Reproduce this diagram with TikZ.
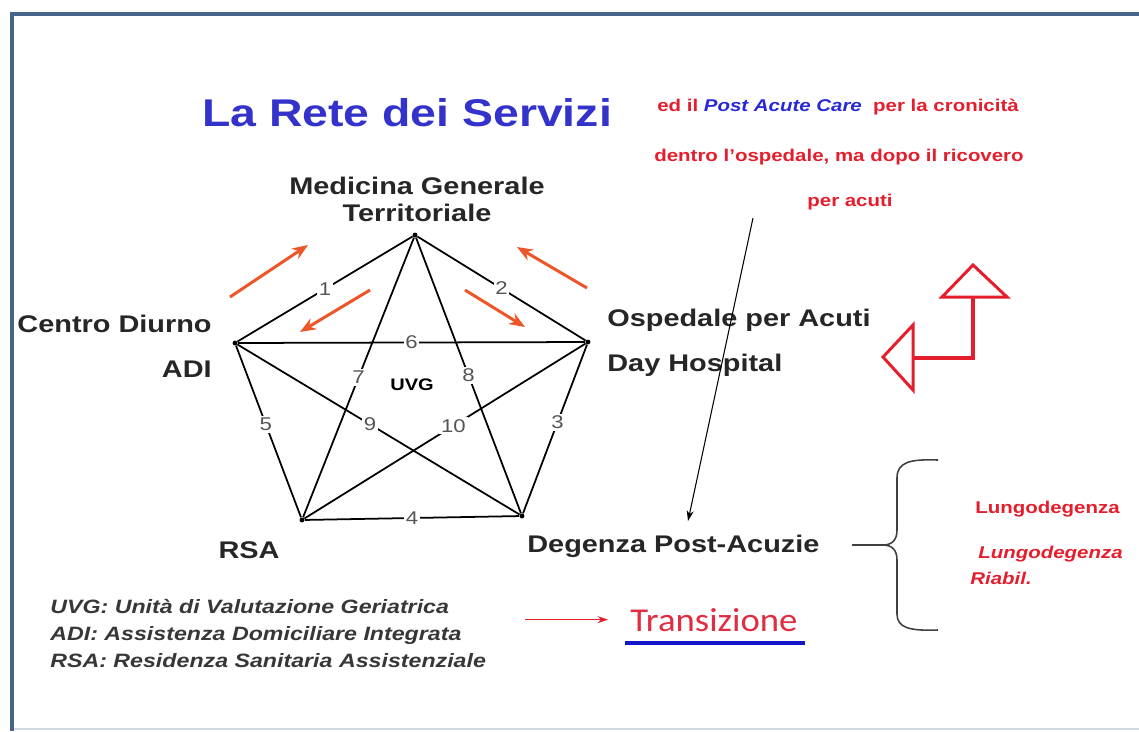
\documentclass[tikz,border=0pt]{standalone}
\usepackage{fontspec}
\setmainfont[FakeStretch=1.2]{Liberation Sans}
\newfontfamily\transfont[FakeStretch=1.1]{Carlito}
\usetikzlibrary{arrows.meta,positioning}
\definecolor{titlecolor}{RGB}{51,51,204}
\definecolor{notecolor}{RGB}{228,30,45}
\definecolor{pacolor}{RGB}{40,40,215}
\definecolor{flowcolor}{RGB}{236,86,40}
\definecolor{framecolor}{RGB}{70,100,140}
\definecolor{edgecolor}{RGB}{85,85,85}
\definecolor{legendcolor}{RGB}{55,55,55}
\definecolor{barcolor}{RGB}{20,20,200}
\definecolor{transcolor}{RGB}{225,45,65}

\begin{document}
\begin{tikzpicture}[x=0.02cm, y=-0.02cm,
                vertex/.style={circle, fill=black, inner sep=0pt, minimum size=2.8pt},
                place/.style={inner sep=0pt, text=black!85, font=\bfseries\fontsize{13.7}{15.4}\selectfont},
                edgenum/.style={fill=white, inner sep=1pt, text=edgecolor, font=\fontsize{10.5}{12}\selectfont},
                note/.style={inner sep=0pt, text=notecolor, font=\bfseries\fontsize{9.7}{11}\selectfont},
                legend/.style={inner sep=0pt, anchor=base west, text=legendcolor, font=\bfseries\itshape\fontsize{11}{13}\selectfont},
                link/.style={line width=1pt},
                flow/.style={-{Stealth[length=9pt, width=7pt]}, line width=1.7pt, flowcolor},
                thinarrow/.style={-{Stealth[length=6pt, width=4pt]}, line width=0.6pt},
                turn/.style={notecolor, line width=1.7pt, line join=miter},
                brace/.style={black!75, line width=0.9pt}]

                \useasboundingbox (0,0) rectangle (1139,731);

                % Frame
                \draw[framecolor, line width=2.3pt] (10,14) -- (1139,14);
                \draw[framecolor, line width=2.3pt] (12,14) -- (12,731);
                \draw[framecolor!25, line width=1.5pt] (14,729) -- (1139,729);

                % Title
                \node[inner sep=0pt, anchor=base, text=titlecolor, font=\bfseries\fontsize{22}{26}\selectfont] (title) at (407,126) {La Rete dei Servizi};

                % Pentagon
                \node[vertex] (mg) at (415,235) {};
                \node[vertex] (cd) at (235,343) {};
                \node[vertex] (op) at (588,342) {};
                \node[vertex] (rsa) at (302,520) {};
                \node[vertex] (dpa) at (522,516) {};
                \foreach \a/\b/\n/\p in {cd/mg/1/0.5, mg/op/2/0.5, op/dpa/3/0.46, rsa/dpa/4/0.5, cd/rsa/5/0.46,
                                         cd/op/6/0.5, mg/rsa/7/0.5, mg/dpa/8/0.5, cd/dpa/9/0.47, op/rsa/10/0.47}
                    \draw[link] (\a) -- node[edgenum, pos=\p] {\n} (\b);
                \node[inner sep=0pt, font=\bfseries\fontsize{9.5}{11}\selectfont] (uvg) at (412,385) {UVG};

                % Places
                \node[place, align=center] (mgtxt) at (417,199) {Medicina Generale\\Territoriale};
                \node[place, anchor=base east] (cdtxt) at (212,332) {Centro Diurno};
                \node[place, anchor=base east] (aditxt) at (212,377) {ADI};
                \node[place, anchor=base west] (optxt) at (607,326) {Ospedale per Acuti};
                \node[place, anchor=base west] (dhtxt) at (607,371) {Day Hospital};
                \node[place, anchor=base] (rsatxt) at (249,558) {RSA};
                \node[place, anchor=base west] (dpatxt) at (527,552) {Degenza Post-Acuzie};

                % Flows
                \coordinate (f1a) at (230,297); \coordinate (f1b) at (308,245);
                \coordinate (f2a) at (370,290); \coordinate (f2b) at (300,332);
                \coordinate (f3a) at (465,290); \coordinate (f3b) at (525,327);
                \coordinate (f4a) at (587,288); \coordinate (f4b) at (517,247);
                \draw[flow] (f1a) -- (f1b);
                \draw[flow] (f2a) -- (f2b);
                \draw[flow] (f3a) -- (f3b);
                \draw[flow] (f4a) -- (f4b);

                % Post Acute Care
                \node[note, anchor=base] (note1) at (838,111) {ed il \textcolor{pacolor}{\itshape Post Acute Care}~ per la cronicità};
                \node[note, anchor=base] (note2) at (839,161) {dentro l’ospedale, ma dopo il ricovero};
                \node[note, anchor=base] (note3) at (850,206) {per acuti};
                \coordinate (pacstart) at (753,218);
                \coordinate (pacend) at (688,521);
                \draw[thinarrow] (pacstart) -- (pacend);

                % Turn arrow
                \draw[turn, fill=white] (942,297) -- (973,265) -- (1007,297) -- cycle;
                \draw[turn, line width=2.3pt] (973,298) -- (973,358) -- (914,358);
                \draw[turn, fill=white] (913,325) -- (883,357) -- (913,390) -- cycle;

                % Brace
                \coordinate (bracein) at (852,545);
                \coordinate (bracetip) at (883,545);
                \draw[brace] (bracein) -- (bracetip);
                \draw[brace] (938,460) .. controls (910,459) and (897,462) .. (897,478) -- (897,530)
                    .. controls (897,540) and (892,545) .. (bracetip)
                    .. controls (892,545) and (897,550) .. (897,560) -- (897,614)
                    .. controls (897,628) and (910,631) .. (938,630);
                \node[note, anchor=base west] (lung1) at (975,513) {Lungodegenza};
                \node[note, anchor=base west, font=\bfseries\itshape\fontsize{9.7}{11}\selectfont] (lung2) at (978,558) {Lungodegenza};
                \node[note, anchor=base west, font=\bfseries\itshape\fontsize{9.7}{11}\selectfont] (riab) at (970,584) {Riabil.};

                % Legend
                \node[legend] (leg1) at (50,613) {UVG: Unità di Valutazione Geriatrica};
                \node[legend] (leg2) at (50,640) {ADI: Assistenza Domiciliare Integrata};
                \node[legend] (leg3) at (50,667) {RSA: Residenza Sanitaria Assistenziale};

                % Transizione
                \node[inner sep=0pt, anchor=base west, text=transcolor, font=\transfont\fontsize{19}{22}\selectfont] (trtxt) at (630,631) {Transizione};
                \coordinate (trstart) at (525,618);
                \draw[-{Stealth[length=6pt, width=4pt]}, notecolor, line width=0.7pt, shorten >=12.5pt] (trtxt.west -| trstart) -- (trtxt.west);
                \draw[barcolor, line width=2.8pt] (625,643) -- (805,643);

            \end{tikzpicture}
\end{document}
